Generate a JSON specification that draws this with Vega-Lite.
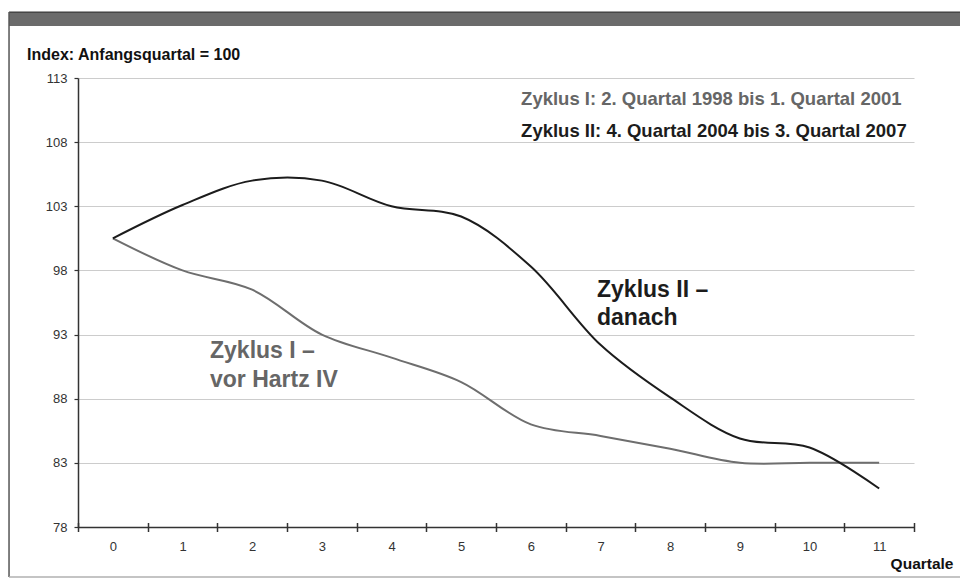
{
  "$schema": "https://vega.github.io/schema/vega-lite/v6.json",
  "width": 836,
  "height": 449,
  "autosize": {"type": "none"},
  "padding": {"left": 78, "top": 78, "right": 46, "bottom": 51},
  "background": "white",
  "config": {"view": {"stroke": null}, "font": "Liberation Sans"},
  "datasets": {
    "lines": [
      {"quartal": 0, "index": 100.5, "zyklus": "Zyklus I"},
      {"quartal": 1, "index": 98.0, "zyklus": "Zyklus I"},
      {"quartal": 2, "index": 96.5, "zyklus": "Zyklus I"},
      {"quartal": 3, "index": 93.0, "zyklus": "Zyklus I"},
      {"quartal": 4, "index": 91.2, "zyklus": "Zyklus I"},
      {"quartal": 5, "index": 89.3, "zyklus": "Zyklus I"},
      {"quartal": 6, "index": 86.0, "zyklus": "Zyklus I"},
      {"quartal": 7, "index": 85.1, "zyklus": "Zyklus I"},
      {"quartal": 8, "index": 84.1, "zyklus": "Zyklus I"},
      {"quartal": 9, "index": 83.0, "zyklus": "Zyklus I"},
      {"quartal": 10, "index": 83.0, "zyklus": "Zyklus I"},
      {"quartal": 11, "index": 83.0, "zyklus": "Zyklus I"},
      {"quartal": 0, "index": 100.5, "zyklus": "Zyklus II"},
      {"quartal": 1, "index": 103.1, "zyklus": "Zyklus II"},
      {"quartal": 2, "index": 105.0, "zyklus": "Zyklus II"},
      {"quartal": 3, "index": 105.0, "zyklus": "Zyklus II"},
      {"quartal": 4, "index": 103.0, "zyklus": "Zyklus II"},
      {"quartal": 5, "index": 102.2, "zyklus": "Zyklus II"},
      {"quartal": 6, "index": 98.3, "zyklus": "Zyklus II"},
      {"quartal": 7, "index": 92.2, "zyklus": "Zyklus II"},
      {"quartal": 8, "index": 88.1, "zyklus": "Zyklus II"},
      {"quartal": 9, "index": 84.9, "zyklus": "Zyklus II"},
      {"quartal": 10, "index": 84.2, "zyklus": "Zyklus II"},
      {"quartal": 11, "index": 81.0, "zyklus": "Zyklus II"}
    ],
    "one": [{}]
  },
  "layer": [
    {
      "data": {"name": "one"},
      "mark": {"type": "rect", "fill": "#6b6b6b"},
      "encoding": {
        "x": {"datum": -1.49, "type": "quantitative", "axis": null},
        "x2": {"datum": 14},
        "y": {"datum": 118.14, "type": "quantitative", "axis": null},
        "y2": {"datum": 117.05}
      }
    },
    {
      "data": {"name": "one"},
      "mark": {"type": "rule", "color": "#3a3a3a", "strokeWidth": 1.2},
      "encoding": {
        "x": {"datum": -1.49, "type": "quantitative", "axis": null},
        "x2": {"datum": 14},
        "y": {"datum": 118.14, "type": "quantitative", "axis": null}
      }
    },
    {
      "data": {"name": "one"},
      "mark": {"type": "rule", "color": "#555555", "strokeWidth": 1.5},
      "encoding": {
        "x": {"datum": -1.49, "type": "quantitative", "axis": null},
        "y": {"datum": 118.14, "type": "quantitative", "axis": null},
        "y2": {"datum": 74.1}
      }
    },
    {
      "data": {"name": "one"},
      "mark": {"type": "rule", "color": "#b0b0b0", "strokeWidth": 1.5},
      "encoding": {
        "x": {"datum": -1.49, "type": "quantitative", "axis": null},
        "x2": {"datum": 14},
        "y": {"datum": 74.1, "type": "quantitative", "axis": null}
      }
    },
    {
      "data": {"name": "one"},
      "mark": {"type": "text", "align": "left", "baseline": "alphabetic", "fontSize": 16, "fontWeight": "bold", "color": "#111111"},
      "encoding": {
        "x": {"datum": -1.232, "type": "quantitative", "axis": null},
        "y": {"datum": 114.44, "type": "quantitative", "axis": null},
        "text": {"value": "Index: Anfangsquartal = 100"}
      }
    },
    {
      "data": {"name": "lines"},
      "mark": {"type": "line", "interpolate": "catmull-rom", "strokeWidth": 2},
      "encoding": {
        "x": {
          "field": "quartal",
          "type": "quantitative",
          "scale": {"domain": [-0.5, 11.5], "nice": false, "zero": false},
          "axis": {
            "orient": "bottom",
            "values": [0, 1, 2, 3, 4, 5, 6, 7, 8, 9, 10, 11],
            "ticks": false,
            "tickSize": 0,
            "grid": false,
            "domainColor": "#333333",
            "domainWidth": 1.5,
            "labelFontSize": 13,
            "labelColor": "#333333",
            "labelPadding": 13,
            "title": "Quartale",
            "titleFontSize": 15.5,
            "titleFontWeight": "bold",
            "titleColor": "#111111",
            "titleAlign": "right",
            "titleAnchor": "end",
            "titleBaseline": "alphabetic",
            "titleX": 875,
            "titleY": 41
          }
        },
        "y": {
          "field": "index",
          "type": "quantitative",
          "scale": {"domain": [78, 113], "nice": false, "zero": false},
          "axis": {
            "values": [78, 83, 88, 93, 98, 103, 108, 113],
            "grid": true,
            "gridColor": "#cccccc",
            "gridWidth": 1.2,
            "domainColor": "#333333",
            "domainWidth": 1.5,
            "tickColor": "#333333",
            "tickSize": 4,
            "tickWidth": 1.2,
            "labelFontSize": 13,
            "labelColor": "#333333",
            "labelPadding": 7,
            "title": null
          }
        },
        "color": {
          "field": "zyklus",
          "type": "nominal",
          "scale": {"domain": ["Zyklus I", "Zyklus II"], "range": ["#6e6e6e", "#1c1c1c"]},
          "legend": null
        }
      }
    },
    {
      "data": {"name": "lines"},
      "mark": {"type": "point", "opacity": 0},
      "encoding": {
        "x": {
          "field": "quartal",
          "type": "quantitative",
          "axis": {
            "orient": "bottom",
            "values": [-0.5, 0.5, 1.5, 2.5, 3.5, 4.5, 5.5, 6.5, 7.5, 8.5, 9.5, 10.5, 11.5],
            "labels": false,
            "domain": false,
            "grid": false,
            "ticks": true,
            "tickSize": 9,
            "tickWidth": 1.5,
            "tickColor": "#333333",
            "offset": -4.5,
            "title": null
          }
        },
        "y": {"field": "index", "type": "quantitative", "axis": null}
      }
    },
    {
      "data": {"name": "one"},
      "mark": {"type": "text", "align": "left", "baseline": "alphabetic", "fontSize": 18.5, "fontWeight": "bold", "color": "#666666"},
      "encoding": {
        "x": {"datum": 5.86, "type": "quantitative", "axis": null},
        "y": {"datum": 110.9, "type": "quantitative", "axis": null},
        "text": {"value": "Zyklus I: 2. Quartal 1998 bis 1. Quartal 2001"}
      }
    },
    {
      "data": {"name": "one"},
      "mark": {"type": "text", "align": "left", "baseline": "alphabetic", "fontSize": 18.5, "fontWeight": "bold", "color": "#1c1c1c"},
      "encoding": {
        "x": {"datum": 5.86, "type": "quantitative", "axis": null},
        "y": {"datum": 108.43, "type": "quantitative", "axis": null},
        "text": {"value": "Zyklus II: 4. Quartal 2004 bis 3. Quartal 2007"}
      }
    },
    {
      "data": {"name": "one"},
      "mark": {"type": "text", "align": "left", "baseline": "alphabetic", "fontSize": 23, "fontWeight": "bold", "lineHeight": 28.5, "color": "#666666"},
      "encoding": {
        "x": {"datum": 1.395, "type": "quantitative", "axis": null},
        "y": {"datum": 91.15, "type": "quantitative", "axis": null},
        "text": {"value": ["Zyklus I –", "vor Hartz IV"]}
      }
    },
    {
      "data": {"name": "one"},
      "mark": {"type": "text", "align": "left", "baseline": "alphabetic", "fontSize": 23, "fontWeight": "bold", "lineHeight": 28.5, "color": "#1c1c1c"},
      "encoding": {
        "x": {"datum": 6.95, "type": "quantitative", "axis": null},
        "y": {"datum": 95.95, "type": "quantitative", "axis": null},
        "text": {"value": ["Zyklus II –", "danach"]}
      }
    }
  ],
  "resolve": {"axis": {"x": "independent", "y": "independent"}}
}
